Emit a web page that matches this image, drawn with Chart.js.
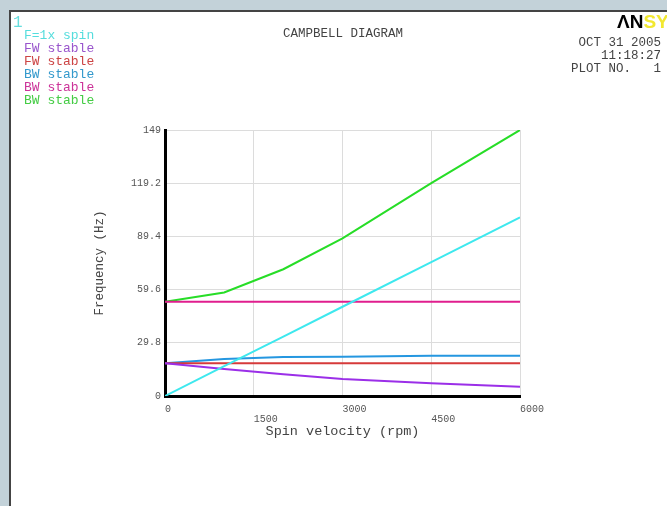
<!DOCTYPE html>
<html>
<head>
<meta charset="utf-8">
<script src="https://cdn.jsdelivr.net/npm/chart.js@4.4.1/dist/chart.umd.min.js"></script>
<style>
  body { margin: 0; width: 667px; height: 506px; background: #c3d2d9; overflow: hidden; position: relative; }
  #frame { position: absolute; left: 9px; top: 10px; width: 670px; height: 510px; background: #fff; border-left: 2px solid #444; border-top: 2px solid #444; }
  #chart { position: absolute; left: 0; top: 0; }
  .txt { position: absolute; font-family: "Liberation Mono", monospace; font-size: 13px; line-height: 13px; white-space: pre; }
  #logo { position: absolute; left: 617px; top: 11px; font-family: "Liberation Sans", sans-serif; font-weight: bold; font-size: 19px; white-space: pre; }
</style>
</head>
<body>
<div id="frame"></div>
<canvas id="chart" width="667" height="506"></canvas>
<div class="txt" style="left:13px;top:15px;color:#66dddd;font-size:16px;line-height:16px">1</div>
<div id="legend"></div>
<div class="txt" style="left:283px;top:28px;color:#444;font-size:12.5px">CAMPBELL DIAGRAM</div>
<div id="logo"><span style="color:#000">ΛN</span><span style="color:#f2e830">SYS</span></div>
<div class="txt" style="right:6px;top:37px;color:#444;text-align:right;font-size:12.5px">OCT 31 2005
   11:18:27
PLOT NO.   1</div>
<script>
const spin = [0, 1000, 2000, 3000, 4500, 6000];
const xTicks = [0, 1500, 3000, 4500, 6000];
const yTicks = [0, 29.8, 59.6, 89.4, 119.2, 149];

const seriesNames = ['F=1x spin', 'FW stable', 'FW stable', 'BW stable', 'BW stable', 'BW stable'];
const oneXSpin = [0, 16.7, 33.3, 50, 75, 100];
const fwStable1 = [18.3, 15.1, 12.2, 9.5, 7.1, 5.2];
const fwStable2 = [18.3, 18.3, 18.3, 18.3, 18.3, 18.3];
const bwStable1 = [18.3, 20.7, 21.8, 22.0, 22.5, 22.6];
const bwStable2 = [52.8, 52.8, 52.8, 52.8, 52.8, 52.8];
const bwStable3 = [52.8, 58, 71, 88.3, 119.2, 149];

const lineColors = ['#3ee8ee', '#9b2fe8', '#d63a3a', '#2597e0', '#e01e8e', '#27dd27'];
const textColors = ['#55dddd', '#9955cc', '#cc4444', '#3399cc', '#cc3399', '#44cc44'];
const allSeries = [oneXSpin, fwStable1, fwStable2, bwStable1, bwStable2, bwStable3];

// legend as plain text lines
const legend = document.getElementById('legend');
seriesNames.forEach((name, i) => {
  const d = document.createElement('div');
  d.className = 'txt';
  d.style.left = '24px';
  d.style.top = (29 + i * 13) + 'px';
  d.style.color = textColors[i];
  d.textContent = name;
  legend.appendChild(d);
});

const mono = 'Liberation Mono, monospace';

new Chart(document.getElementById('chart'), {
  type: 'line',
  data: {
    datasets: allSeries.map((vals, i) => ({
      label: seriesNames[i],
      data: vals.map((v, j) => ({ x: spin[j], y: v })),
      borderColor: lineColors[i],
      borderWidth: 2,
      pointRadius: 0,
      tension: 0
    }))
  },
  options: {
    responsive: false,
    animation: false,
    layout: { padding: { left: 88, top: 130, right: 147, bottom: 62 } },
    plugins: { legend: { display: false }, tooltip: { enabled: false } },
    scales: {
      x: {
        type: 'linear',
        min: 0,
        max: 6000,
        afterBuildTicks: s => { s.ticks = xTicks.map(v => ({ value: v })); },
        afterFit: s => { s.height = 48; },
        grid: { color: '#dcdcdc', drawTicks: false },
        border: { color: '#000', width: 3 },
        ticks: {
          align: 'start',
          padding: 8,
          color: '#555',
          font: { family: mono, size: 10, lineHeight: 1.0 },
          callback: (v, i) => (i % 2 ? ['', String(v)] : String(v))
        },
        title: {
          display: true,
          text: 'Spin velocity (rpm)',
          color: '#444',
          font: { family: mono, size: 13.5 }
        }
      },
      y: {
        min: 0,
        max: 149,
        afterBuildTicks: s => { s.ticks = yTicks.map(v => ({ value: v })); },
        afterFit: s => { s.width = 77; },
        grid: { color: '#dcdcdc', drawTicks: false },
        border: { color: '#000', width: 3 },
        ticks: {
          padding: 4,
          color: '#555',
          font: { family: mono, size: 10 },
          callback: (v, i) => String(yTicks[i])
        },
        title: {
          display: true,
          text: 'Frequency (Hz)',
          color: '#444',
          font: { family: mono, size: 12.5 }
        }
      }
    }
  }
});
</script>
</body>
</html>
